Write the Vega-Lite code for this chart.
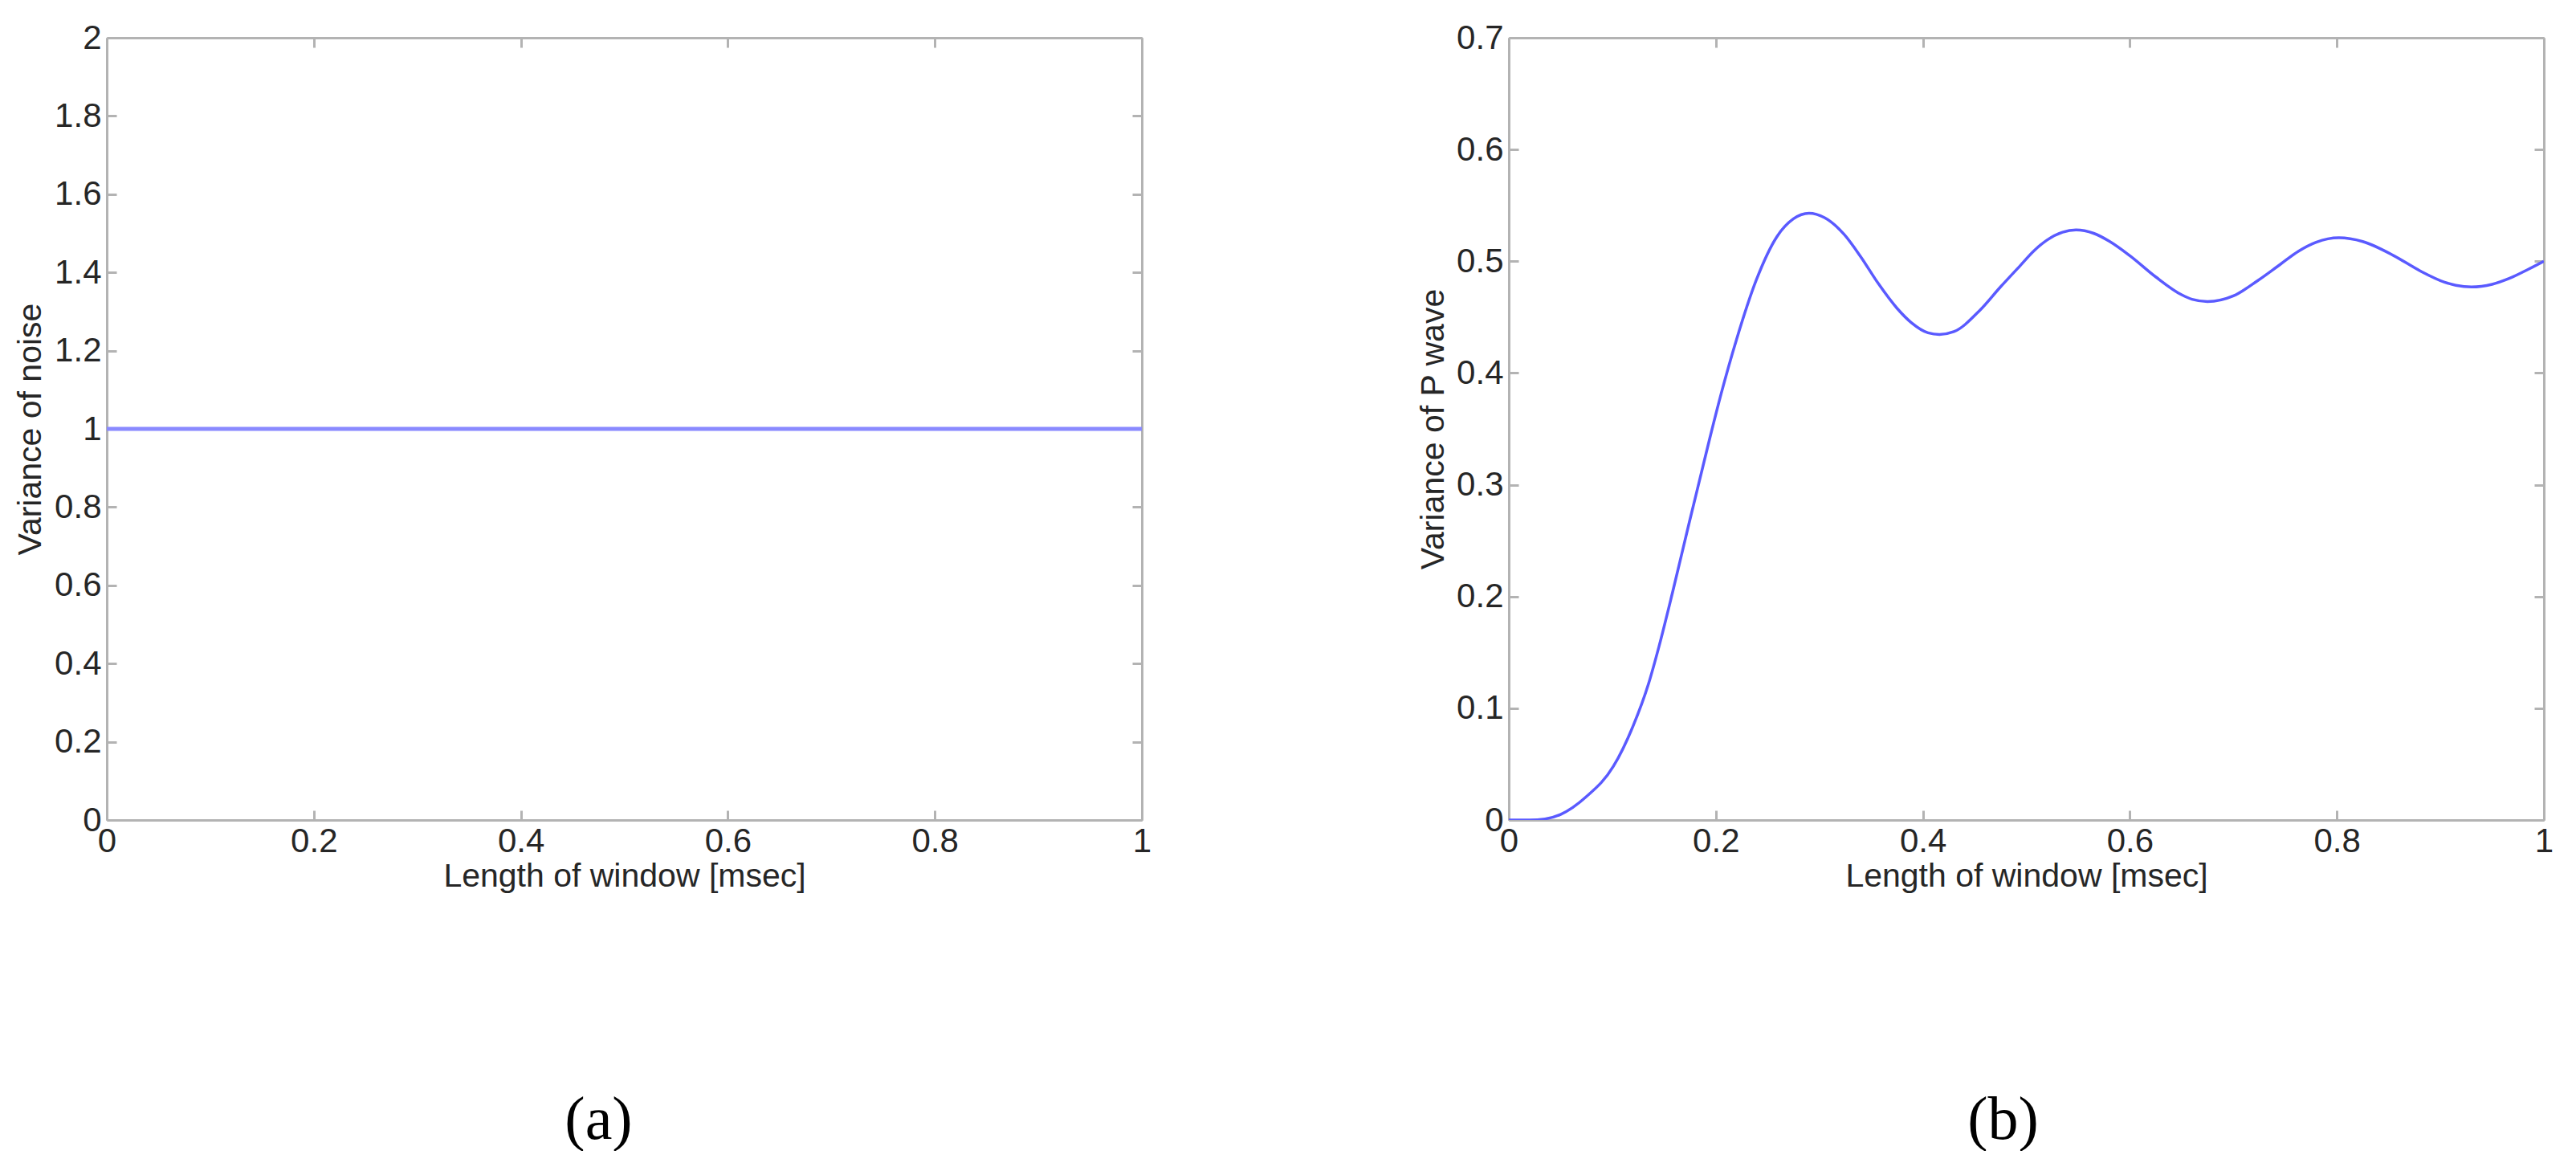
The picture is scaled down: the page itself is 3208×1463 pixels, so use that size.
{
  "$schema": "https://vega.github.io/schema/vega-lite/v6.json",
  "background": "white",
  "padding": {"left": 17, "top": 26, "right": 0, "bottom": 0},
  "spacing": 330,
  "datasets": {
    "noise": [
      {"x": 0, "y": 1}, {"x": 0.5, "y": 1}, {"x": 1, "y": 1}
    ],
    "pwave": [
      {"x": 0, "y": 0}, {"x": 0.02, "y": 0}, {"x": 0.035, "y": 0.001}, {"x": 0.05, "y": 0.005},
      {"x": 0.075, "y": 0.021}, {"x": 0.101, "y": 0.048}, {"x": 0.12, "y": 0.084}, {"x": 0.135, "y": 0.122},
      {"x": 0.145, "y": 0.155}, {"x": 0.158, "y": 0.203}, {"x": 0.174, "y": 0.265}, {"x": 0.184, "y": 0.303},
      {"x": 0.194, "y": 0.341}, {"x": 0.205, "y": 0.381}, {"x": 0.22, "y": 0.43}, {"x": 0.239, "y": 0.483},
      {"x": 0.259, "y": 0.522}, {"x": 0.275, "y": 0.538}, {"x": 0.29, "y": 0.543}, {"x": 0.305, "y": 0.539},
      {"x": 0.324, "y": 0.524}, {"x": 0.34, "y": 0.504}, {"x": 0.357, "y": 0.48}, {"x": 0.375, "y": 0.458},
      {"x": 0.389, "y": 0.445}, {"x": 0.405, "y": 0.436}, {"x": 0.416, "y": 0.4345}, {"x": 0.43, "y": 0.437},
      {"x": 0.455, "y": 0.456}, {"x": 0.475, "y": 0.477}, {"x": 0.494, "y": 0.496}, {"x": 0.507, "y": 0.509},
      {"x": 0.52, "y": 0.519}, {"x": 0.535, "y": 0.526}, {"x": 0.548, "y": 0.528}, {"x": 0.565, "y": 0.525},
      {"x": 0.58, "y": 0.518}, {"x": 0.6, "y": 0.505}, {"x": 0.625, "y": 0.486}, {"x": 0.65, "y": 0.47},
      {"x": 0.66, "y": 0.466}, {"x": 0.675, "y": 0.464}, {"x": 0.7, "y": 0.469}, {"x": 0.724, "y": 0.483},
      {"x": 0.745, "y": 0.497}, {"x": 0.763, "y": 0.509}, {"x": 0.78, "y": 0.517}, {"x": 0.802, "y": 0.521},
      {"x": 0.825, "y": 0.5176}, {"x": 0.855, "y": 0.505}, {"x": 0.88, "y": 0.4916}, {"x": 0.904, "y": 0.4813},
      {"x": 0.915, "y": 0.4785}, {"x": 0.93, "y": 0.477}, {"x": 0.95, "y": 0.4794}, {"x": 0.967, "y": 0.4848},
      {"x": 0.985, "y": 0.4928}, {"x": 1, "y": 0.5}
    ]
  },
  "hconcat": [
    {
      "data": {"name": "noise"},
      "width": 1289,
      "height": 974,
      "title": {"text": "(a)", "orient": "bottom", "anchor": "middle", "frame": "group", "dx": -32, "offset": 247, "font": "Liberation Serif", "fontSize": 76, "fontWeight": "normal", "color": "#000000"},
      "layer": [
        {
          "mark": {"type": "line", "color": "#8a8aff", "strokeWidth": 5, "clip": true},
          "encoding": {
            "x": {"field": "x", "type": "quantitative", "scale": {"domain": [0, 1], "nice": false, "zero": false},
                  "axis": {"orient": "bottom", "title": "Length of window [msec]", "values": [0, 0.2, 0.4, 0.6, 0.8, 1], "format": "~g"}},
            "y": {"field": "y", "type": "quantitative", "scale": {"domain": [0, 2], "nice": false, "zero": false},
                  "axis": {"orient": "left", "title": "Variance of noise", "values": [0, 0.2, 0.4, 0.6, 0.8, 1, 1.2, 1.4, 1.6, 1.8, 2], "format": "~g"}}
          }
        },
        {
          "mark": {"type": "line", "opacity": 0},
          "encoding": {
            "x": {"field": "x", "type": "quantitative", "axis": {"orient": "top", "labels": false, "title": null, "values": [0, 0.2, 0.4, 0.6, 0.8, 1]}},
            "y": {"field": "y", "type": "quantitative", "axis": {"orient": "right", "labels": false, "title": null, "values": [0, 0.2, 0.4, 0.6, 0.8, 1, 1.2, 1.4, 1.6, 1.8, 2]}}
          }
        }
      ],
      "resolve": {"axis": {"x": "independent", "y": "independent"}}
    },
    {
      "data": {"name": "pwave"},
      "width": 1289,
      "height": 974,
      "title": {"text": "(b)", "orient": "bottom", "anchor": "middle", "frame": "group", "dx": -29, "offset": 247, "font": "Liberation Serif", "fontSize": 76, "fontWeight": "normal", "color": "#000000"},
      "layer": [
        {
          "mark": {"type": "line", "color": "#5a5aff", "strokeWidth": 3.5, "interpolate": "monotone", "clip": true},
          "encoding": {
            "x": {"field": "x", "type": "quantitative", "scale": {"domain": [0, 1], "nice": false, "zero": false},
                  "axis": {"orient": "bottom", "title": "Length of window [msec]", "values": [0, 0.2, 0.4, 0.6, 0.8, 1], "format": "~g"}},
            "y": {"field": "y", "type": "quantitative", "scale": {"domain": [0, 0.7], "nice": false, "zero": false},
                  "axis": {"orient": "left", "title": "Variance of P wave", "titlePadding": 7, "values": [0, 0.1, 0.2, 0.3, 0.4, 0.5, 0.6, 0.7], "format": "~g"}}
          }
        },
        {
          "mark": {"type": "line", "opacity": 0},
          "encoding": {
            "x": {"field": "x", "type": "quantitative", "axis": {"orient": "top", "labels": false, "title": null, "values": [0, 0.2, 0.4, 0.6, 0.8, 1]}},
            "y": {"field": "y", "type": "quantitative", "axis": {"orient": "right", "labels": false, "title": null, "values": [0, 0.1, 0.2, 0.3, 0.4, 0.5, 0.6, 0.7]}}
          }
        }
      ],
      "resolve": {"axis": {"x": "independent", "y": "independent"}}
    }
  ],
  "config": {
    "view": {"stroke": null},
    "axis": {
      "grid": false,
      "domainColor": "#b3b3b3",
      "domainWidth": 3,
      "tickColor": "#b3b3b3",
      "tickWidth": 3,
      "tickSize": -12,
      "labelPadding": 18,
      "labelFont": "Liberation Sans",
      "labelFontSize": 42,
      "labelColor": "#262626",
      "labelFlush": false,
      "labelOverlap": false,
      "labelBound": false,
      "titleFont": "Liberation Sans",
      "titleFontSize": 41,
      "titleFontWeight": "normal",
      "titleColor": "#262626",
      "titlePadding": 3
    },
    "axisLeft": {"titlePadding": 8, "labelPadding": 19}
  }
}
